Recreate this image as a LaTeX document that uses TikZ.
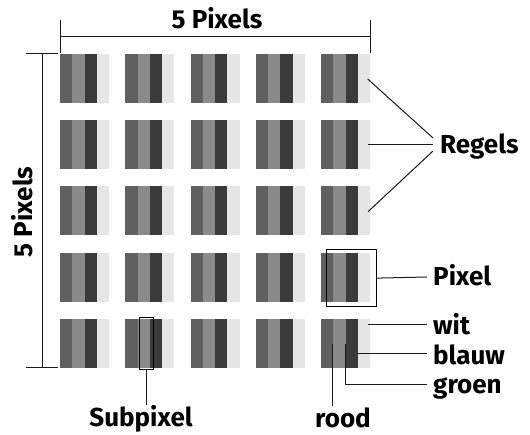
\documentclass[tikz,border=0pt]{standalone}
\usepackage{fontspec}
\setmainfont{Fira Sans}
\definecolor{sA}{HTML}{606060}
\definecolor{sB}{HTML}{8A8A8A}
\definecolor{sC}{HTML}{3A3A3A}
\definecolor{sD}{HTML}{E6E6E6}
\definecolor{ln}{HTML}{1A1A1A}
\tikzset{
  lbl/.style={font=\bfseries\fontsize{26}{30}\selectfont, text=black, inner sep=0pt},
  conn/.style={draw=ln, line width=1pt},
  frame/.style={draw=black, line width=1.2pt},
  pix/.style={rectangle, inner sep=0pt, minimum width=49.2pt, minimum height=49pt, anchor=north west},
}
\begin{document}
\begin{tikzpicture}[x=1pt,y=-1pt]
\useasboundingbox (0,0) rectangle (530,435);
% pixels
\foreach \r in {1,...,5}{
  \foreach \c in {1,...,5}{
    \pgfmathsetmacro{\px}{60+(\c-1)*65.25}
    \pgfmathsetmacro{\py}{54+(\r-1)*66.25}
    \fill[sA] (\px,\py) rectangle ++(12.3,49);
    \fill[sB] (\px+12.3,\py) rectangle ++(12.3,49);
    \fill[sC] (\px+24.6,\py) rectangle ++(12.3,49);
    \fill[sD] (\px+36.9,\py) rectangle ++(12.3,49);
    \node[pix] (p\r\c) at (\px,\py) {};
  }
}
% top dimension
\coordinate (tl) at (60,20); \coordinate (tlb) at (60,53);
\coordinate (tr) at (370,20); \coordinate (trb) at (370,53);
\coordinate (hl) at (60,37); \coordinate (hr) at (370,37);
\draw[conn] (tl) -- (tlb);
\draw[conn] (tr) -- (trb);
\draw[conn] (hl) -- (hr);
\node[lbl, anchor=base] (topl) at (217,28.5) {5 Pixels};
% left dimension
\coordinate (lt1) at (26,54); \coordinate (lt2) at (58,54);
\coordinate (lb1) at (26,368); \coordinate (lb2) at (58,368);
\coordinate (vt) at (42,54); \coordinate (vb) at (42,368);
\draw[conn] (lt1) -- (lt2);
\draw[conn] (lb1) -- (lb2);
\draw[conn] (vt) -- (vb);
\node[lbl, rotate=90, anchor=base] (leftl) at (32,212) {5 Pixels};
% Regels
\node[lbl, anchor=base west] (regels) at (440,153.5) {Regels};
\coordinate (rg1) at (367.7,79); \coordinate (rg1e) at (433,138);
\coordinate (rg2) at (367.7,145); \coordinate (rg2e) at (433,145);
\coordinate (rg3) at (368,211.7); \coordinate (rg3e) at (433,151);
\draw[conn] (rg1) -- (rg1e);
\draw[conn] (rg2) -- (rg2e);
\draw[conn] (rg3) -- (rg3e);
% Pixel box
\node[frame, rectangle, inner sep=0pt, minimum width=50.3pt, minimum height=57pt, anchor=north west] (pbox) at (325.7,249) {};
\node[lbl, anchor=base west] (pixel) at (433,285.5) {Pixel};
\draw[conn] (pbox.east) -- (427,277);
% wit, blauw, groen
\node[lbl, anchor=base west] (wit) at (433,335) {wit};
\node[lbl, anchor=base west] (blauw) at (433,365) {blauw};
\node[lbl, anchor=base west] (groen) at (433,393) {groen};
\coordinate (wits) at (368,325);
\coordinate (blauws) at (357,354);
\coordinate (groens) at (345,344);
\coordinate (roods) at (332,344);
\draw[conn] (wits) -- (427,325);
\draw[conn] (blauws) -- (427,354);
\draw[conn] (groens) -- (345,385) -- (427,385);
\node[lbl, anchor=base] (rood) at (343,428) {rood};
\draw[conn] (roods) -- (332,406);
% Subpixel
\node[frame, rectangle, inner sep=0pt, minimum width=13.7pt, minimum height=52pt, anchor=north west] (sbox) at (139,317) {};
\node[lbl, anchor=base] (subpixel) at (141,426) {Subpixel};
\draw[conn] (sbox.south) -- (sbox.south |- 0,405);
\end{tikzpicture}
\end{document}
